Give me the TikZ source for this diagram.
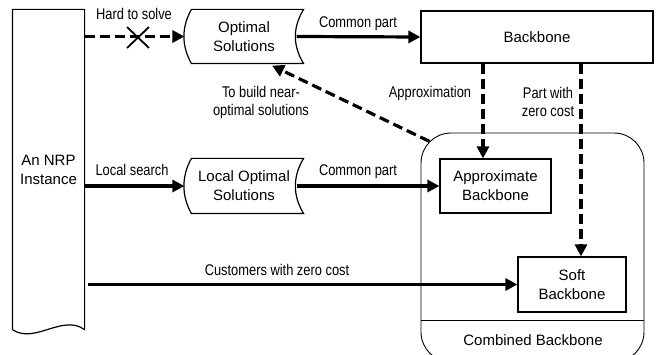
\documentclass[tikz,border=0pt]{standalone}
\usepackage{fontspec}
\setmainfont{Liberation Sans}
\newfontfamily\narrowfont[FakeStretch=0.83]{Liberation Sans}
\usetikzlibrary{arrows.meta,calc,shapes.misc}

\tikzset{
  box/.style={draw, line width=1.2pt, align=center, inner sep=0pt, font=\fontsize{15}{19}\selectfont},
  lbl/.style={align=center, inner sep=0pt, font=\narrowfont\fontsize{15.5}{18}\selectfont},
  flow/.style={line width=3.2pt, -{Triangle[length=12pt,width=12pt]}},
  dflow/.style={flow, dash pattern=on 10pt off 5pt},
}

% stored data outline round a node
\newcommand\datashape[1]{%
  \draw[line width=1.2pt] ($(#1.north west)+(7,0)$) -- (#1.north east)
    .. controls ($(#1.north east)+(-11,18)$) and ($(#1.south east)+(-11,-18)$) .. (#1.south east)
    -- ($(#1.south west)+(7,0)$)
    .. controls ($(#1.south west)+(-3,-18)$) and ($(#1.north west)+(-3,18)$) .. cycle;}

\begin{document}
\begin{tikzpicture}[x=1pt, y=-1pt]
  \useasboundingbox (0,0) rectangle (658,355);
  \clip (0,0) rectangle (658,355);

  \node[box, draw=none, minimum width=71pt, minimum height=319pt] (nrp) at (48.5,169.5) {An NRP\\Instance};
  \draw[line width=1.2pt] (nrp.south west) -- (nrp.north west) -- (nrp.north east) -- (nrp.south east)
    .. controls +(-22,-16) and +(22,15) .. (nrp.south west);

  \node[box, draw=none, minimum width=118pt, minimum height=53pt] (opt) at (244,36.5) {Optimal\\Solutions};
  \datashape{opt}
  \node[box, draw=none, minimum width=118pt, minimum height=54pt] (local) at (244,186) {Local Optimal\\Solutions};
  \datashape{local}

  \node[box, minimum width=232pt, minimum height=52pt] (bb) at (537,37) {Backbone};
  \node[box, line width=0.9pt, rounded corners=30pt, minimum width=223pt, minimum height=229pt] (comb) at (532.5,247.5) {};
  \node[box, minimum width=111pt, minimum height=54pt] (approx) at (495.5,186) {Approximate\\Backbone};
  \node[box, minimum width=108pt, minimum height=55pt] (soft) at (572,284.5) {Soft\\Backbone};
  \node[box, draw=none] (cbl) at (533,340) {Combined Backbone};
  \coordinate (divy) at (0,320);
  \draw[line width=0.9pt] (comb.west |- divy) -- (comb.east |- divy);

  \coordinate (ap) at ($(bb.south)+(-54,0)$);
  \coordinate (zc) at ($(bb.south)+(44,0)$);
  \coordinate (corner) at ($(comb.north west)+(8.8,8.8)$);

  \draw[dflow] (nrp.east |- opt.west) -- (opt.west);
  \node[cross out, draw, line width=1.8pt, minimum width=20pt, minimum height=19pt] (xmark) at (138,37.5) {};
  \draw[flow] ($(opt.east)+(-7,0)$) -- (bb.west);
  \draw[flow] (nrp.east |- local.west) -- (local.west);
  \draw[flow] ($(local.east)+(-7,0)$) -- (approx.west);
  \draw[flow] ($(nrp.east |- soft.west)+(3,0)$) -- (soft.west);
  \draw[dflow] (ap) -- (ap |- approx.north);
  \draw[dflow] (zc) -- (zc |- soft.north);
  \draw[dflow] (corner) -- ($(opt.south)+(28,2)$);

  \node[lbl] (hard) at (134,14) {Hard to solve};
  \node[lbl] (cp1) at (358,24) {Common part};
  \node[lbl] (apx) at (430,93) {Approximation};
  \node[lbl] (zero) at (548,102) {Part with\\zero cost};
  \node[lbl] (near) at (261,102) {To build near-\\optimal solutions};
  \node[lbl] (ls) at (132,170) {Local search};
  \node[lbl] (cp2) at (358,172) {Common part};
  \node[lbl] (cust) at (277,270) {Customers with zero cost};
\end{tikzpicture}
\end{document}
